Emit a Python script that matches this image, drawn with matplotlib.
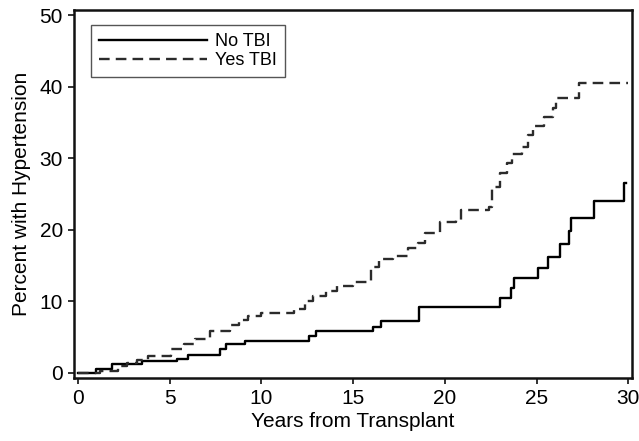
import matplotlib
matplotlib.use("Agg")
import matplotlib.pyplot as plt

# cumulative incidence curves (years, percent)
no_tbi_years = [0, 1.0, 1.85, 3.5, 5.4, 6.0, 7.75, 8.1, 9.1, 12.6, 13.0, 16.1, 16.5,
                18.6, 23.0, 23.6, 23.75, 25.1, 25.6, 26.3, 26.75, 26.9, 28.15, 29.75, 29.9]
no_tbi_pct = [0, 0.5, 1.2, 1.6, 2.0, 2.5, 3.4, 4.0, 4.5, 5.1, 5.9, 6.4, 7.3,
              9.2, 10.5, 11.8, 13.2, 14.6, 16.2, 18.0, 19.9, 21.7, 24.0, 26.5, 26.5]

yes_tbi_years = [0, 1.2, 2.2, 2.7, 3.2, 3.8, 5.1, 5.8, 6.4, 7.2, 8.3, 8.8, 9.3, 10.0,
                 11.8, 12.4, 12.8, 13.5, 14.1, 15.0, 16.0, 16.4, 17.2, 18.0, 18.55,
                 18.9, 19.75, 20.6, 20.9, 22.4, 22.55, 23.0, 23.4, 23.65, 24.2, 24.55,
                 24.8, 25.4, 25.9, 26.05, 27.3, 30.0]
yes_tbi_pct = [0, 0.2, 0.9, 1.4, 1.8, 2.4, 3.4, 4.1, 4.7, 5.8, 6.7, 7.4, 8.0, 8.4,
               9.0, 10.0, 10.8, 11.4, 12.2, 12.7, 14.8, 15.9, 16.3, 17.4, 18.1,
               19.6, 21.1, 21.4, 22.7, 23.2, 26.0, 27.9, 29.3, 30.6, 31.6, 33.2,
               34.5, 35.8, 37.0, 38.4, 40.5, 40.5]

xticks = [0, 5, 10, 15, 20, 25, 30]
yticks = [0, 10, 20, 30, 40, 50]

plt.rcParams['font.family'] = ['Liberation Sans', 'DejaVu Sans']

fig = plt.figure(figsize=(6.39, 4.41), dpi=100)
ax = fig.add_axes([0.116, 0.143, 0.873, 0.834])

ax.step(no_tbi_years, no_tbi_pct, where='post', color='black', lw=1.7, label='No TBI')
ax.step(yes_tbi_years, yes_tbi_pct, where='post', color='#2b2b2b', lw=1.7,
        dashes=(4.5, 2.6), label='Yes TBI')

ax.set_xlim(-0.2, 30.2)
ax.set_ylim(-0.7, 50.7)
ax.set_xticks(xticks)
ax.set_yticks(yticks)
ax.tick_params(labelsize=15, length=4.5, width=1.3, color='#222222')
for s in ax.spines.values():
    s.set_linewidth(1.8)
    s.set_color('#111111')

ax.set_xlabel('Years from Transplant', fontsize=15, labelpad=3)
ax.set_ylabel('Percent with Hypertension', fontsize=15, labelpad=6)

leg = ax.legend(loc='upper left', bbox_to_anchor=(0.03, 0.96), borderaxespad=0,
                fontsize=13, handlelength=6.0, handletextpad=0.4,
                labelspacing=0.12, borderpad=0.45, fancybox=False,
                framealpha=1, edgecolor='#555555')
leg.get_frame().set_linewidth(1.0)

fig.savefig('out.png', dpi=100)
